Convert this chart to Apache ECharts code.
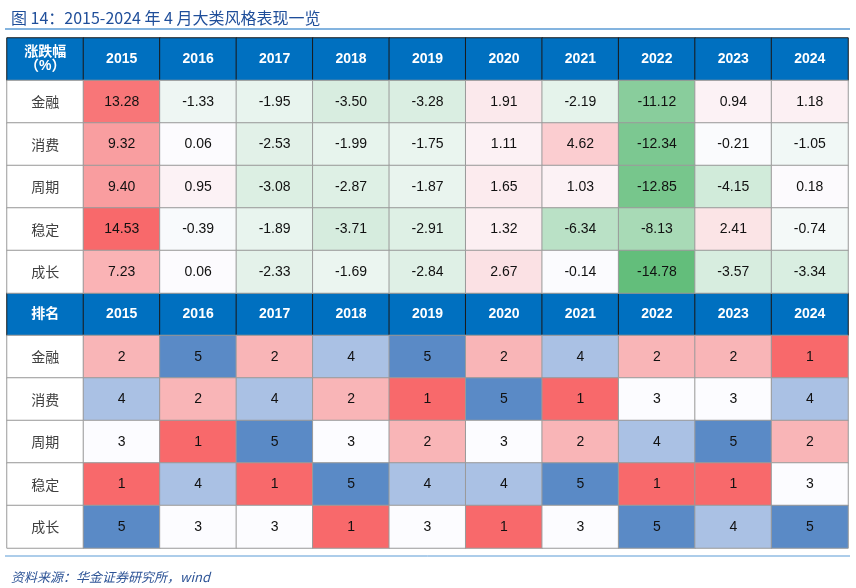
<!DOCTYPE html>
<html><head><meta charset="utf-8">
<script src="https://cdn.jsdelivr.net/npm/echarts@6/dist/echarts.min.js"></script>
<style>html,body{margin:0;padding:0;background:#fff}#c{width:856px;height:588px}</style>
</head><body><div id="c"></div>
<script>
const years = ['2015','2016','2017','2018','2019','2020','2021','2022','2023','2024'];
const styles = ['金融','消费','周期','稳定','成长'];
const returns = [
  [13.28,-1.33,-1.95,-3.50,-3.28,1.91,-2.19,-11.12,0.94,1.18],
  [9.32,0.06,-2.53,-1.99,-1.75,1.11,4.62,-12.34,-0.21,-1.05],
  [9.40,0.95,-3.08,-2.87,-1.87,1.65,1.03,-12.85,-4.15,0.18],
  [14.53,-0.39,-1.89,-3.71,-2.91,1.32,-6.34,-8.13,2.41,-0.74],
  [7.23,0.06,-2.33,-1.69,-2.84,2.67,-0.14,-14.78,-3.57,-3.34]
];
const ranks = [
  [2,5,2,4,5,2,4,2,2,1],
  [4,2,4,2,1,5,1,3,3,4],
  [3,1,5,3,2,3,2,4,5,2],
  [1,4,1,5,4,4,5,1,1,3],
  [5,3,3,1,3,1,3,5,4,5]
];
const rankColors = {1:'#F8696B',2:'#F9B5B7',3:'#FCFCFF',4:'#AAC1E4',5:'#5A8AC6'};
function mix(a,b,t){const p=s=>[1,3,5].map(i=>parseInt(s.substr(i,2),16));const A=p(a),B=p(b);
  return 'rgb('+A.map((v,i)=>Math.round(v+(B[i]-v)*t)).join(',')+')';}
const maxV=Math.max(...returns.flat()), minV=Math.min(...returns.flat());
function retColor(v){return v>=0?mix('#FCFCFF','#F8696B',v/maxV):mix('#FCFCFF','#63BE7B',v/minV);}
const HDR='#0070C0';
const data=[];
const hdr=(x,y,t)=>data.push({value:[x,y,1],name:t,itemStyle:{color:HDR,borderColor:'#1a1a1a',borderWidth:1},
  label:{color:'#fff',fontWeight:'bold',fontSize:14,fontFamily:'Liberation Sans, Noto Sans CJK SC'}});
hdr(0,0,'涨跌幅\n（%）'); hdr(0,6,'排名');
years.forEach((y,i)=>{hdr(i+1,0,y);hdr(i+1,6,y);});
const lab=(x,y,t)=>data.push({value:[x,y,1],name:t,itemStyle:{color:'#fff'},label:{color:'#404040',fontSize:14,fontFamily:'Noto Sans CJK SC'}});
styles.forEach((s,r)=>{
  lab(0,r+1,s); lab(0,r+7,s);
  returns[r].forEach((v,c)=>data.push({value:[c+1,r+1,v],name:v.toFixed(2),itemStyle:{color:retColor(v)}}));
  ranks[r].forEach((v,c)=>data.push({value:[c+1,r+7,v],name:String(v),itemStyle:{color:rankColors[v]}}));
});
const chart=echarts.init(document.getElementById('c'));
chart.setOption({
  animation:false,
  title:[{text:'图 14：2015-2024 年 4 月大类风格表现一览',left:6,top:5,textStyle:{color:'#1F4E9A',fontSize:16,fontWeight:'normal',fontFamily:'Noto Sans CJK SC'}},
    {text:'资料来源：华金证券研究所，wind',left:6,top:566,textStyle:{color:'#2F5597',fontSize:13,fontStyle:'italic',fontWeight:'normal',fontFamily:'Noto Sans CJK SC'}}],
  graphic:[{type:'line',shape:{x1:5,y1:29,x2:850,y2:29},style:{stroke:'#5B9BD5',lineWidth:1.5}},
    {type:'line',shape:{x1:5,y1:556,x2:850,y2:556},style:{stroke:'#5B9BD5',lineWidth:1}}],
  grid:{left:7,right:8,top:38,bottom:40},
  xAxis:{type:'category',data:['',...years],show:false},
  yAxis:{type:'category',data:Array.from({length:12},(_,i)=>i),inverse:true,show:false},
  series:[{type:'heatmap',data:data,
    itemStyle:{borderColor:'#9a9a9a',borderWidth:1},
    label:{show:true,formatter:p=>p.name,color:'#111',fontSize:14,fontFamily:'Liberation Sans'}}]
});
</script></body></html>
